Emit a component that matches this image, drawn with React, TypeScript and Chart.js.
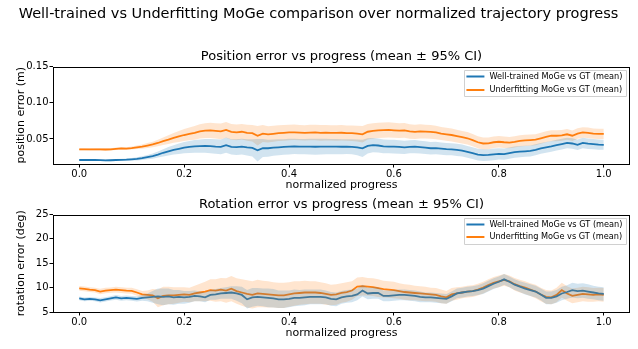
import React, { useEffect, useRef } from "react";
import { Chart, registerables } from "chart.js";

Chart.register(...registerables);

// normalized progress samples, 0.00 .. 1.00 in steps of 0.01
const PROGRESS = Array.from({ length: 101 }, (_, i) => i / 100);

const LABEL_WELL = "Well-trained MoGe vs GT (mean)";
const LABEL_UNDER = "Underfitting MoGe vs GT (mean)";

// position error (m), mean per progress sample
const POS_WELL = [
  0.021, 0.021, 0.0212, 0.021, 0.0208, 0.0205, 0.0207, 0.021, 0.0212, 0.0215,
  0.022, 0.0225, 0.0235, 0.025, 0.0265, 0.0285, 0.031, 0.033, 0.035, 0.0365,
  0.038, 0.039, 0.0398, 0.0402, 0.0405, 0.0402, 0.0396, 0.0392, 0.0415, 0.0392,
  0.0388, 0.0395, 0.0385, 0.0378, 0.0345, 0.0375, 0.0372, 0.038, 0.0385, 0.039,
  0.0395, 0.0398, 0.0396, 0.0394, 0.0395, 0.0393, 0.0394, 0.0396, 0.0394, 0.0395,
  0.0393, 0.0394, 0.0392, 0.0385, 0.037, 0.0405, 0.0415, 0.041, 0.0398, 0.0396,
  0.0394, 0.039, 0.0385, 0.0392, 0.0395, 0.0388, 0.038, 0.0372, 0.0375, 0.0368,
  0.036, 0.0358, 0.035, 0.034, 0.0322, 0.0305, 0.0285, 0.0278, 0.028, 0.0288,
  0.0295, 0.029, 0.0305, 0.0318, 0.0325, 0.033, 0.0335, 0.035, 0.037, 0.0385,
  0.0398, 0.0415, 0.043, 0.0445, 0.0438, 0.042, 0.0445, 0.0435, 0.0428, 0.0422,
  0.042,
];
const POS_UNDER = [
  0.0358, 0.0357, 0.0356, 0.0357, 0.0356, 0.0355, 0.0356, 0.0365, 0.037, 0.0368,
  0.0375, 0.0385, 0.0395, 0.041, 0.0425, 0.0445, 0.047, 0.049, 0.0515, 0.0535,
  0.0555, 0.057, 0.0585, 0.0605, 0.0615, 0.062, 0.0612, 0.0605, 0.0625, 0.0598,
  0.0592, 0.06, 0.0585, 0.058, 0.0545, 0.0575, 0.0565, 0.0572, 0.058, 0.0585,
  0.059, 0.0592, 0.0588, 0.0585, 0.0588, 0.059, 0.0585, 0.0587, 0.0585, 0.0583,
  0.0586, 0.0582, 0.058, 0.0575, 0.0565, 0.06, 0.0612, 0.0618, 0.0622, 0.0625,
  0.062, 0.0615, 0.0618, 0.0605, 0.0598, 0.0605, 0.0602, 0.0598, 0.059, 0.0575,
  0.0565, 0.0555, 0.054, 0.0525, 0.051, 0.0485, 0.0455, 0.0438, 0.044, 0.0455,
  0.0462, 0.0455, 0.045, 0.046, 0.0475, 0.048, 0.0485, 0.049, 0.051, 0.053,
  0.0545, 0.0545, 0.055, 0.0565, 0.0545, 0.0575, 0.059, 0.0585, 0.0575, 0.057,
  0.057,
];
// 95% CI half-widths for position error (m)
const POS_WELL_CI = [
  0.0012, 0.0012, 0.0013, 0.0012, 0.0013, 0.0013, 0.0014, 0.0014, 0.0015, 0.0016,
  0.0018, 0.0022, 0.0026, 0.003, 0.0036, 0.0042, 0.005, 0.0058, 0.0065, 0.0072,
  0.0078, 0.0084, 0.0088, 0.0092, 0.0095, 0.0098, 0.01, 0.0102, 0.0105, 0.0106,
  0.0108, 0.011, 0.0112, 0.0118, 0.0155, 0.0125, 0.0116, 0.0112, 0.011, 0.0108,
  0.0108, 0.0106, 0.0105, 0.0106, 0.0108, 0.011, 0.0108, 0.0106, 0.0105, 0.0104,
  0.0104, 0.0102, 0.0104, 0.0108, 0.012, 0.0104, 0.0098, 0.0096, 0.0095, 0.0094,
  0.0094, 0.0092, 0.0092, 0.009, 0.009, 0.0088, 0.0088, 0.0086, 0.0086, 0.0085,
  0.0085, 0.0084, 0.0084, 0.0083, 0.0082, 0.0082, 0.0082, 0.008, 0.008, 0.008,
  0.0078, 0.0078, 0.0078, 0.0077, 0.0077, 0.0076, 0.0076, 0.0076, 0.0075, 0.0075,
  0.0074, 0.0074, 0.0074, 0.0073, 0.0073, 0.0072, 0.0072, 0.0072, 0.0071, 0.0071,
  0.007,
];
const POS_UNDER_CI = [
  0.0014, 0.0014, 0.0014, 0.0015, 0.0015, 0.0015, 0.0016, 0.0016, 0.0017, 0.0018,
  0.002, 0.0024, 0.0028, 0.0033, 0.0038, 0.0045, 0.0052, 0.006, 0.0068, 0.0075,
  0.0082, 0.0088, 0.0094, 0.0098, 0.0102, 0.0105, 0.0106, 0.0107, 0.0108, 0.0108,
  0.0108, 0.0108, 0.011, 0.0114, 0.0135, 0.0118, 0.0112, 0.011, 0.0108, 0.0108,
  0.0108, 0.0107, 0.0106, 0.0106, 0.0107, 0.0108, 0.0108, 0.0107, 0.0106, 0.0106,
  0.0106, 0.0105, 0.0106, 0.0108, 0.0115, 0.0108, 0.0106, 0.0106, 0.0106, 0.0105,
  0.0104, 0.0102, 0.0102, 0.01, 0.0098, 0.0097, 0.0096, 0.0094, 0.0092, 0.009,
  0.0089, 0.0088, 0.0087, 0.0086, 0.0085, 0.0084, 0.0083, 0.0082, 0.0082, 0.0081,
  0.008, 0.008, 0.0079, 0.0079, 0.0078, 0.0078, 0.0077, 0.0077, 0.0076, 0.0076,
  0.0075, 0.0075, 0.0074, 0.0074, 0.0073, 0.0073, 0.0072, 0.0072, 0.0071, 0.0071,
  0.007,
];

// rotation error (deg), mean per progress sample
const ROT_WELL = [
  7.8, 7.6, 7.7, 7.6, 7.4, 7.6, 7.8, 8.0, 7.8, 7.9,
  7.8, 7.7, 7.9, 8.0, 8.1, 8.2, 8.1, 8.2, 8.0, 8.1,
  8.0, 8.1, 8.3, 8.2, 8.0, 8.5, 8.6, 8.8, 8.9, 9.0,
  8.8, 8.5, 7.6, 8.0, 8.1, 8.0, 7.9, 7.8, 7.6, 7.6,
  7.7, 7.9, 7.9, 8.0, 8.1, 8.1, 8.1, 8.0, 7.7, 7.6,
  8.0, 8.2, 8.3, 8.6, 9.4, 8.8, 8.9, 8.9, 8.3, 8.3,
  8.4, 8.5, 8.5, 8.4, 8.3, 8.1, 8.0, 8.0, 7.9, 7.8,
  7.7, 8.2, 8.8, 9.0, 9.2, 9.3, 9.5, 9.8, 10.3, 10.8,
  11.2, 11.7, 11.2, 10.6, 10.2, 9.8, 9.5, 9.2, 8.6, 7.9,
  7.9, 8.2, 8.8, 9.1, 9.5, 9.3, 9.4, 9.2, 9.0, 8.8,
  8.7,
];
const ROT_UNDER = [
  9.85, 9.75, 9.6, 9.5, 9.2, 9.4, 9.5, 9.6, 9.5, 9.4,
  9.35, 9.0, 8.6, 8.5, 8.4, 7.8, 8.3, 8.4, 8.4, 8.5,
  8.6, 8.5, 8.8, 9.0, 9.2, 9.5, 9.4, 9.6, 9.4, 9.8,
  9.3, 9.0, 8.7, 8.5, 8.8, 8.7, 8.6, 8.5, 8.4, 8.4,
  8.6, 8.8, 8.9, 9.0, 9.0, 9.0, 8.9, 8.7, 8.5, 8.6,
  8.9, 9.1, 9.4, 10.2, 10.3, 10.2, 10.1, 9.9, 9.7, 9.6,
  9.5, 9.3, 9.1, 9.0, 8.9, 8.8, 8.7, 8.6, 8.5, 8.2,
  8.0, 8.6, 8.8, 9.0, 9.2, 9.3, 9.6, 10.0, 10.5, 11.0,
  11.3, 11.6, 11.3, 10.7, 10.3, 10.0, 9.6, 9.2, 8.6, 8.1,
  8.0, 8.5, 9.5, 8.8, 8.3, 8.5, 8.7, 8.6, 8.5, 8.6,
  8.5,
];
// 95% CI half-widths for rotation error (deg)
const ROT_WELL_CI = [
  0.4, 0.4, 0.4, 0.4, 0.45, 0.45, 0.45, 0.5, 0.5, 0.5,
  0.5, 0.55, 0.6, 0.8, 1.2, 1.6, 1.7, 1.6, 1.5, 1.4,
  1.3, 1.2, 1.1, 1.0, 1.0, 1.0, 1.1, 1.1, 1.2, 1.3,
  1.5, 1.7, 1.9, 1.9, 1.8, 1.8, 1.9, 1.9, 1.8, 1.8,
  1.7, 1.7, 1.6, 1.6, 1.5, 1.5, 1.5, 1.4, 1.4, 1.4,
  1.3, 1.3, 1.3, 1.2, 1.2, 1.2, 1.2, 1.2, 1.1, 1.1,
  1.1, 1.1, 1.1, 1.1, 1.1, 1.1, 1.0, 1.0, 1.0, 1.0,
  1.0, 1.0, 1.0, 1.0, 1.0, 1.0, 1.0, 1.1, 1.1, 1.1,
  1.1, 1.1, 1.1, 1.1, 1.1, 1.2, 1.2, 1.2, 1.2, 1.3,
  1.3, 1.3, 1.4, 1.4, 1.5, 1.5, 1.5, 1.5, 1.4, 1.4,
  1.4,
];
const ROT_UNDER_CI = [
  0.5, 0.5, 0.5, 0.5, 0.55, 0.55, 0.55, 0.6, 0.6, 0.6,
  0.6, 0.65, 0.7, 0.9, 1.3, 1.8, 1.9, 1.8, 1.7, 1.6,
  1.5, 1.5, 1.6, 1.8, 2.0, 2.2, 2.3, 2.4, 2.5, 2.6,
  2.6, 2.7, 2.8, 2.8, 2.8, 2.7, 2.7, 2.6, 2.6, 2.6,
  2.5, 2.5, 2.4, 2.4, 2.3, 2.3, 2.2, 2.2, 2.1, 2.1,
  2.0, 2.0, 1.9, 1.9, 1.9, 1.8, 1.8, 1.8, 1.7, 1.7,
  1.7, 1.6, 1.6, 1.6, 1.5, 1.5, 1.5, 1.4, 1.4, 1.4,
  1.3, 1.3, 1.3, 1.2, 1.2, 1.2, 1.2, 1.2, 1.2, 1.2,
  1.2, 1.2, 1.2, 1.3, 1.3, 1.3, 1.3, 1.4, 1.4, 1.4,
  1.4, 1.5, 1.5, 1.5, 1.5, 1.5, 1.5, 1.5, 1.4, 1.4,
  1.4,
];

const X_TICKS = [0, 0.2, 0.4, 0.6, 0.8, 1.0];
const POS_TICKS = [0.05, 0.1, 0.15];
const ROT_TICKS = [5, 10, 15, 20, 25];

const SUPTITLE = "Well-trained vs Underfitting MoGe comparison over normalized trajectory progress";
const POS_TITLE = "Position error vs progress (mean \u00b1 95% CI)";
const ROT_TITLE = "Rotation error vs progress (mean \u00b1 95% CI)";

const BLUE = "#1f77b4";
const ORANGE = "#ff7f0e";
const BLUE_BAND = "rgba(31,119,180,0.2)";
const ORANGE_BAND = "rgba(255,127,14,0.2)";
const FONT = "'DejaVu Sans', sans-serif";

type PanelSpec = {
  width: number;
  height: number;
  plotLeft: number;
  plotRight: number;
  plotTop: number;
  plotBottom: number;
  yMin: number;
  yMax: number;
  yTicks: number[];
  yDigits: number;
  yTitle: string;
  title: string;
  titleY: number;
  xTitleY: number;
  legendGap: number;
  suptitle?: string;
  suptitleY?: number;
  well: number[];
  wellCI: number[];
  under: number[];
  underCI: number[];
};

const pts = (vals: number[]) => vals.map((v, i) => ({ x: PROGRESS[i], y: v }));
const band = (vals: number[], ci: number[], sign: number) =>
  vals.map((v, i) => ({ x: PROGRESS[i], y: v + sign * ci[i] }));

// frame, titles, axis labels and the boxed legend, drawn in matplotlib style
const decorations = {
  id: "decorations",
  afterDraw(chart: any, _args: any, opts: any) {
    const { ctx, chartArea } = chart;
    const spec: PanelSpec = opts.spec;
    ctx.save();
    ctx.strokeStyle = "#000";
    ctx.lineWidth = 1;
    ctx.strokeRect(
      Math.round(chartArea.left) + 0.5,
      Math.round(chartArea.top) + 0.5,
      Math.round(chartArea.right - chartArea.left) - 1,
      Math.round(chartArea.bottom - chartArea.top) - 1
    );
    ctx.fillStyle = "#000";
    ctx.textBaseline = "middle";
    ctx.textAlign = "center";
    const cx = (chartArea.left + chartArea.right) / 2;
    if (spec.suptitle) {
      ctx.font = `14.5px ${FONT}`;
      ctx.fillText(spec.suptitle, chart.width / 2 - 0.5, spec.suptitleY);
    }
    ctx.font = `13px ${FONT}`;
    ctx.fillText(spec.title, cx, spec.titleY);
    ctx.font = `11px ${FONT}`;
    ctx.fillText("normalized progress", cx, spec.xTitleY);
    ctx.save();
    ctx.translate(21, (chartArea.top + chartArea.bottom) / 2);
    ctx.rotate(-Math.PI / 2);
    ctx.fillText(spec.yTitle, 0, 0);
    ctx.restore();

    // legend box in the upper right corner
    const entries = [
      { label: LABEL_WELL, color: BLUE },
      { label: LABEL_UNDER, color: ORANGE },
    ];
    ctx.font = `8.2px ${FONT}`;
    const textW = Math.max(...entries.map((e) => ctx.measureText(e.label).width));
    const boxW = textW + 29;
    const boxH = 26;
    const bx = chartArea.right - 4 - boxW;
    const by = chartArea.top + 3.5;
    ctx.fillStyle = "rgba(255,255,255,0.8)";
    ctx.strokeStyle = "#d0d0d0";
    ctx.lineWidth = 1;
    ctx.beginPath();
    ctx.rect(Math.round(bx) + 0.5, Math.round(by) + 0.5, Math.round(boxW), boxH);
    ctx.fill();
    ctx.stroke();
    entries.forEach((e, i) => {
      const ly = by + 6.5 + i * spec.legendGap;
      ctx.strokeStyle = e.color;
      ctx.lineWidth = 2;
      ctx.beginPath();
      ctx.moveTo(bx + 2.5, ly);
      ctx.lineTo(bx + 20.5, ly);
      ctx.stroke();
      ctx.fillStyle = "#000";
      ctx.textAlign = "left";
      ctx.fillText(e.label, bx + 25.5, ly);
    });
    ctx.restore();
  },
};

function Panel({ spec, top }: { spec: PanelSpec; top: number }) {
  const ref = useRef<HTMLCanvasElement | null>(null);
  useEffect(() => {
    if (!ref.current) return;
    const lineDs = (label: string, data: number[], color: string) => ({
      label,
      data: pts(data),
      borderColor: color,
      backgroundColor: color,
      borderWidth: 1.8,
      pointRadius: 0,
      fill: false,
      tension: 0,
    });
    const bandDs = (vals: number[], ci: number[], color: string) => [
      {
        label: "lo",
        data: band(vals, ci, -1),
        borderWidth: 0,
        pointRadius: 0,
        fill: false,
        borderColor: "rgba(0,0,0,0)",
      },
      {
        label: "hi",
        data: band(vals, ci, 1),
        borderWidth: 0,
        pointRadius: 0,
        fill: "-1",
        backgroundColor: color,
        borderColor: "rgba(0,0,0,0)",
      },
    ];
    const chart = new Chart(ref.current, {
      type: "line",
      data: {
        datasets: [
          ...bandDs(spec.well, spec.wellCI, BLUE_BAND),
          ...bandDs(spec.under, spec.underCI, ORANGE_BAND),
          lineDs(LABEL_WELL, spec.well, BLUE),
          lineDs(LABEL_UNDER, spec.under, ORANGE),
        ] as any,
      },
      options: {
        animation: false,
        responsive: false,
        maintainAspectRatio: false,
        events: [],
        layout: {
          padding: {
            left: 0,
            top: spec.plotTop,
            right: spec.width - spec.plotRight,
            bottom: 0,
          },
        },
        plugins: {
          legend: { display: false },
          tooltip: { enabled: false },
          title: { display: false },
          decorations: { spec },
        } as any,
        scales: {
          x: {
            type: "linear",
            min: -0.05,
            max: 1.05,
            afterBuildTicks: (s: any) => {
              s.ticks = X_TICKS.map((v) => ({ value: v }));
            },
            afterFit: (s: any) => {
              s.height = spec.height - spec.plotBottom;
            },
            ticks: {
              callback: (v: any) => Number(v).toFixed(1),
              color: "#000",
              font: { family: FONT, size: 10 },
              padding: 1,
              maxRotation: 0,
              autoSkip: false,
            },
            grid: {
              display: true,
              drawOnChartArea: false,
              drawTicks: true,
              tickLength: 3.5,
              color: "#000",
            },
            border: { display: false },
          },
          y: {
            type: "linear",
            min: spec.yMin,
            max: spec.yMax,
            afterBuildTicks: (s: any) => {
              s.ticks = spec.yTicks.map((v) => ({ value: v }));
            },
            afterFit: (s: any) => {
              s.width = spec.plotLeft;
            },
            ticks: {
              callback: (v: any) => Number(v).toFixed(spec.yDigits),
              color: "#000",
              font: { family: FONT, size: 10 },
              padding: 1,
              autoSkip: false,
            },
            grid: {
              display: true,
              drawOnChartArea: false,
              drawTicks: true,
              tickLength: 3.5,
              color: "#000",
            },
            border: { display: false },
          },
        },
      },
      plugins: [decorations],
    });
    return () => chart.destroy();
  }, [spec]);
  return (
    <canvas
      ref={ref}
      width={spec.width}
      height={spec.height}
      style={{ position: "absolute", left: 0, top, width: spec.width, height: spec.height }}
    />
  );
}

const POS_SPEC: PanelSpec = {
  width: 638,
  height: 196,
  plotLeft: 53,
  plotRight: 630,
  plotTop: 66.5,
  plotBottom: 164,
  yMin: 0.0155,
  yMax: 0.15,
  yTicks: POS_TICKS,
  yDigits: 2,
  yTitle: "position error (m)",
  title: POS_TITLE,
  titleY: 57,
  xTitleY: 185,
  legendGap: 13.5,
  suptitle: SUPTITLE,
  suptitleY: 14,
  well: POS_WELL,
  wellCI: POS_WELL_CI,
  under: POS_UNDER,
  underCI: POS_UNDER_CI,
};

const ROT_SPEC: PanelSpec = {
  width: 638,
  height: 153,
  plotLeft: 53,
  plotRight: 630,
  plotTop: 24.5,
  plotBottom: 122,
  yMin: 5,
  yMax: 25,
  yTicks: ROT_TICKS,
  yDigits: 0,
  yTitle: "rotation error (deg)",
  title: ROT_TITLE,
  titleY: 15,
  xTitleY: 143,
  legendGap: 12.5,
  well: ROT_WELL,
  wellCI: ROT_WELL_CI,
  under: ROT_UNDER,
  underCI: ROT_UNDER_CI,
};

export default function App() {
  return (
    <div
      style={{
        position: "fixed",
        left: 0,
        top: 0,
        width: 638,
        height: 349,
        background: "#fff",
        overflow: "hidden",
      }}
    >
      <Panel spec={POS_SPEC} top={0} />
      <Panel spec={ROT_SPEC} top={190} />
    </div>
  );
}
